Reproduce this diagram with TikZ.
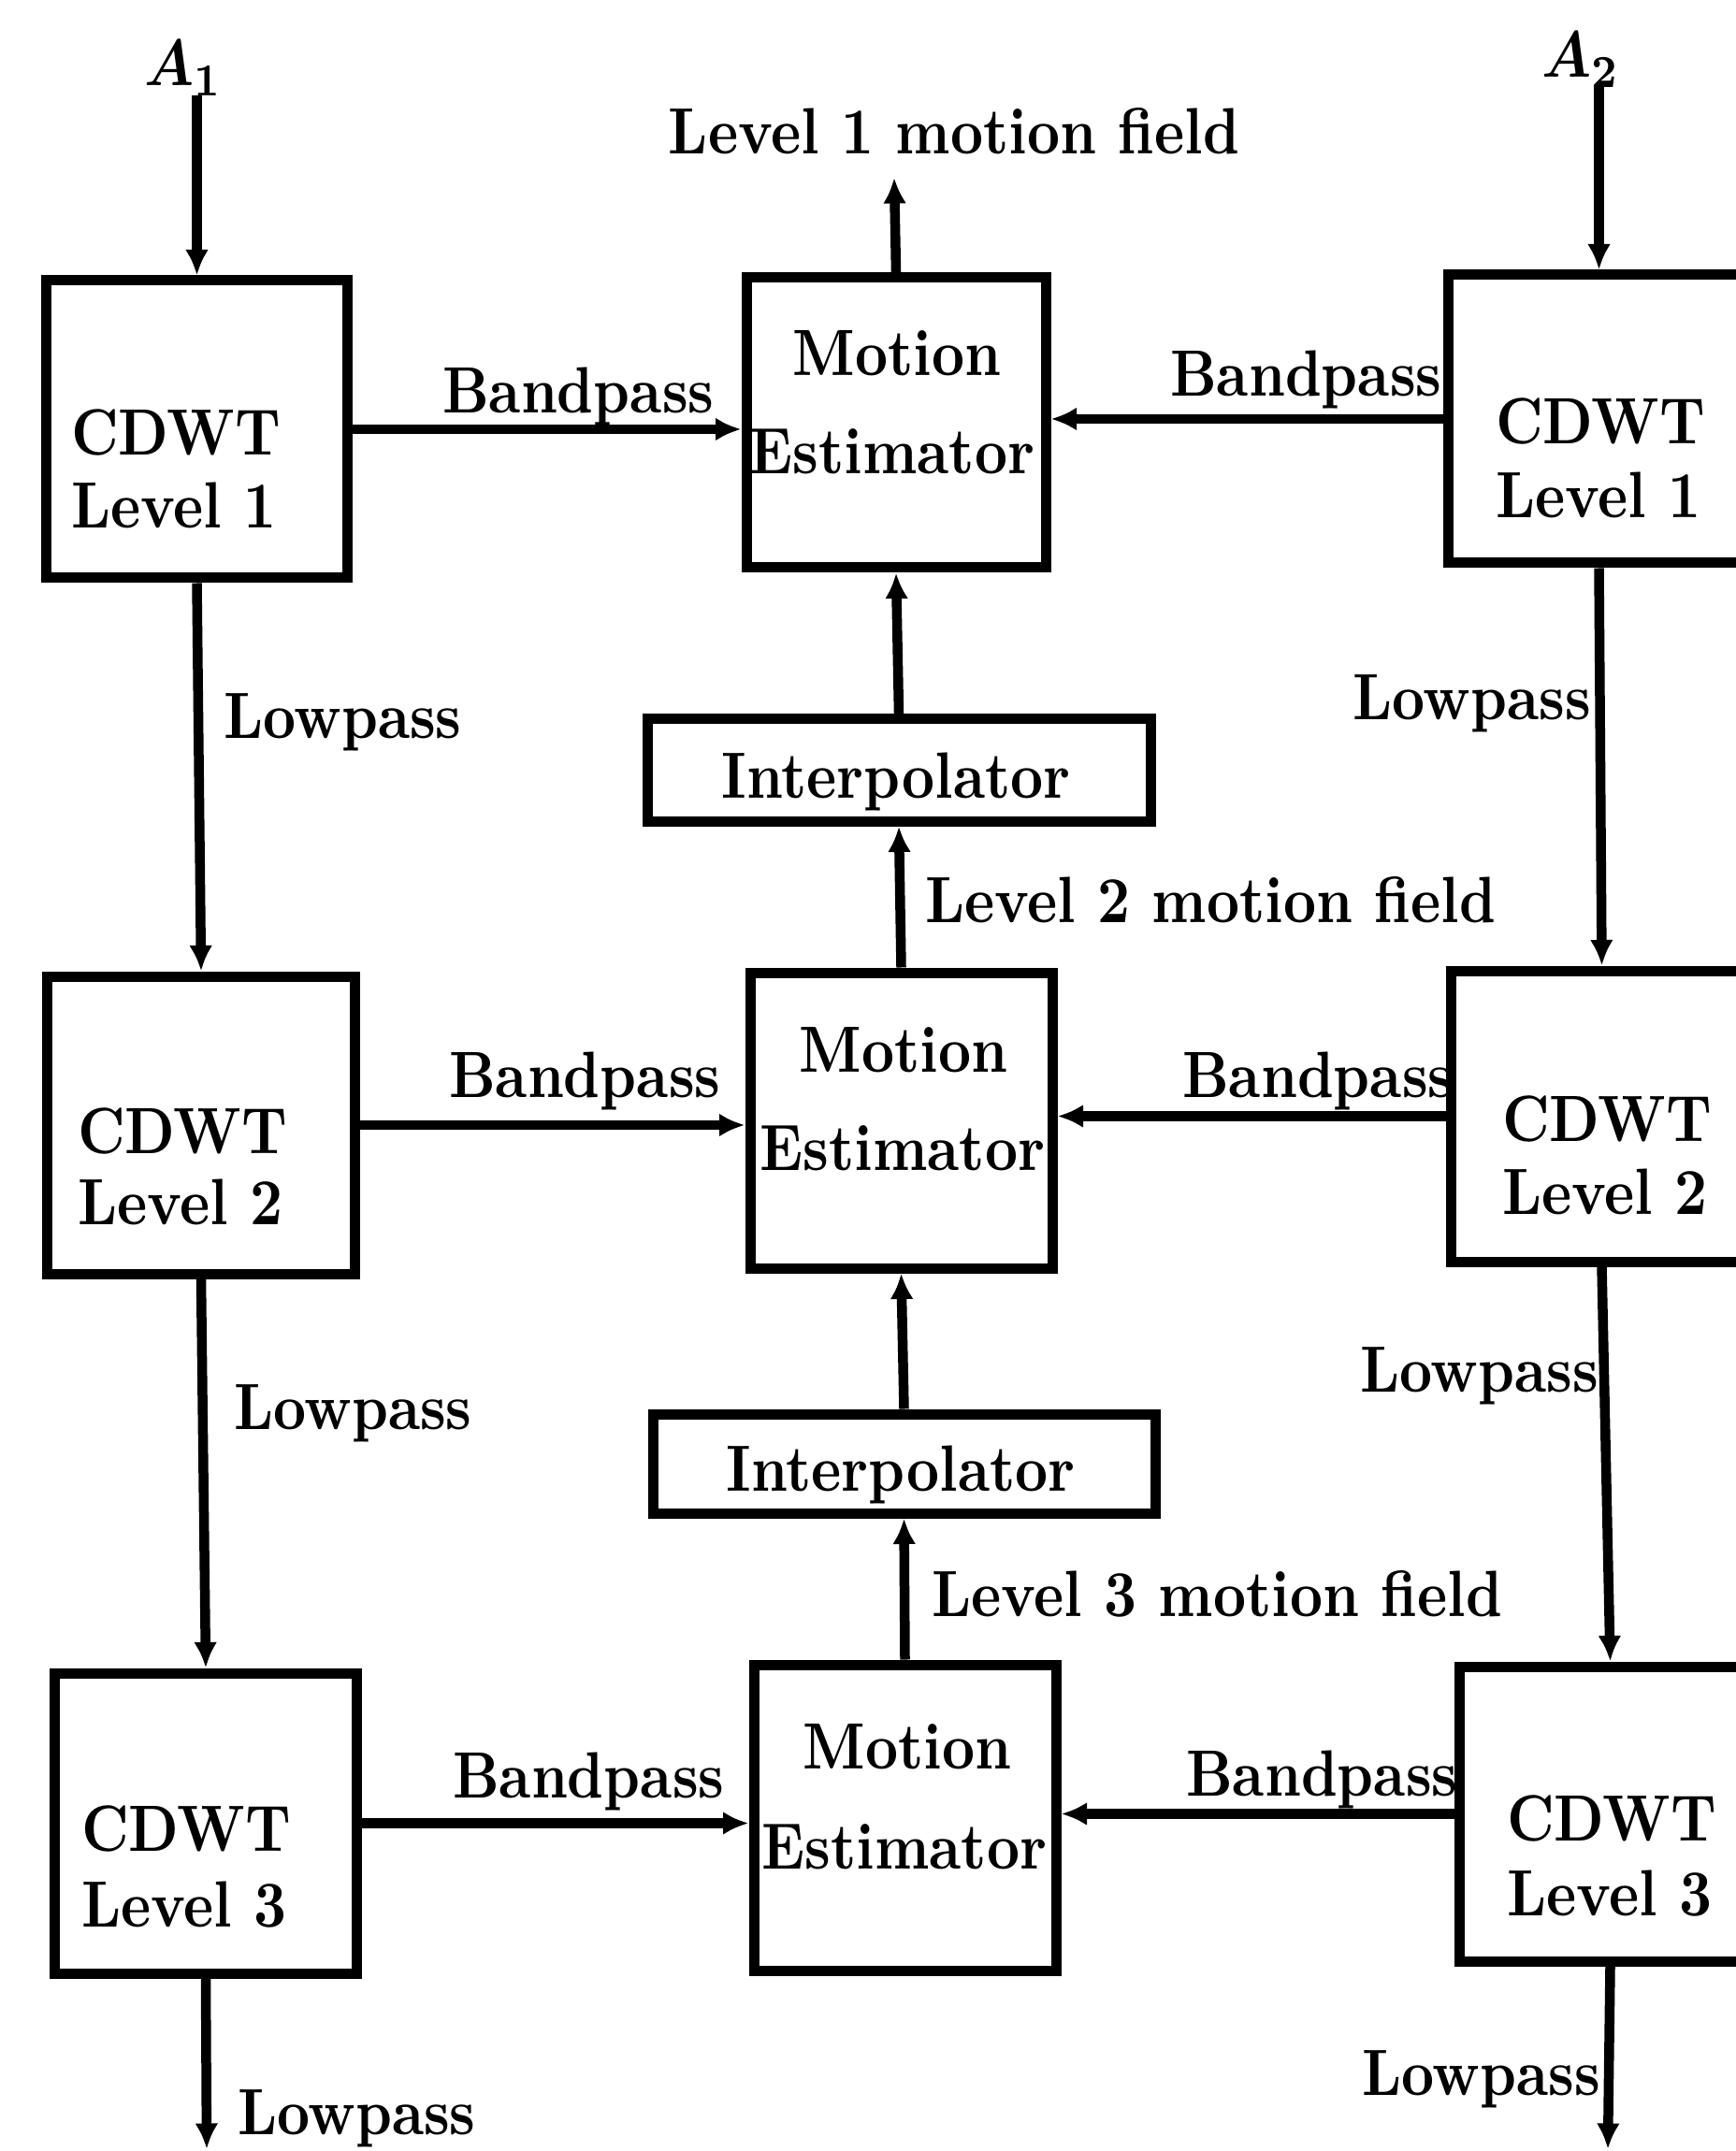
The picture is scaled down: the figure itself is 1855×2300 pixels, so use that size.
\documentclass[tikz,border=0pt]{standalone}
\usetikzlibrary{arrows.meta}
\usepackage{graphicx}
\newcommand\lbl[1]{\scalebox{1.22}[1.4]{\bfseries #1}}
\newcommand\mlbl[1]{\scalebox{1.22}[1.4]{\boldmath$#1$}}
\begin{document}
\begin{tikzpicture}[x=0.2pt,y=-0.2pt,
  blk/.style={draw, line width=2.2pt, inner sep=0pt},
  txt/.style={inner sep=0pt, outer sep=0pt},
  conn/.style={line width=2.1pt, -{Latex[length=5.5pt,width=5pt]}}]
\useasboundingbox (0,0) rectangle (1855,2300);
% ---------- left column ----------
\node[blk, minimum width=64.2pt, minimum height=63.6pt] (L1) at (210.5,459) {};
\node[blk, minimum width=65.6pt, minimum height=63.6pt] (L2) at (215,1203) {};
\node[blk, minimum width=64.4pt, minimum height=64.2pt] (L3) at (220,1949.5) {};
% ---------- middle column ----------
\node[blk, minimum width=64pt, minimum height=62pt] (ME1) at (958,452) {};
\node[blk, minimum width=64.6pt, minimum height=63.2pt] (ME2) at (963.5,1198) {};
\node[blk, minimum width=64.6pt, minimum height=65.4pt] (ME3) at (967.5,1943.5) {};
\node[blk, minimum width=107.6pt, minimum height=21.8pt] (I1) at (961,823.5) {};
\node[blk, minimum width=107.4pt, minimum height=21.2pt] (I2) at (966.5,1565) {};
% ---------- right column ----------
\node[blk, minimum width=64.6pt, minimum height=61.6pt] (R1) at (1709.5,448) {};
\node[blk, minimum width=64.6pt, minimum height=62.2pt] (R2) at (1712.5,1193.5) {};
\node[blk, minimum width=64.6pt, minimum height=63pt] (R3) at (1721.5,1939.5) {};
% ---------- texts inside boxes ----------
\node[txt, anchor=base west] (L1a) at (76,487) {\lbl{CDWT}};
\node[txt, anchor=base west] (L1b) at (76,565) {\lbl{Level 1}};
\node[txt, anchor=base west] (L2a) at (83,1233) {\lbl{CDWT}};
\node[txt, anchor=base west] (L2b) at (83,1309) {\lbl{Level 2}};
\node[txt, anchor=base west] (L3a) at (87,1979) {\lbl{CDWT}};
\node[txt, anchor=base west] (L3b) at (87,2060) {\lbl{Level 3}};
\node[txt, anchor=base west] (R1a) at (1599,475) {\lbl{CDWT}};
\node[txt, anchor=base west] (R1b) at (1599,554) {\lbl{Level 1}};
\node[txt, anchor=base west] (R2a) at (1606,1220) {\lbl{CDWT}};
\node[txt, anchor=base west] (R2b) at (1606,1298) {\lbl{Level 2}};
\node[txt, anchor=base west] (R3a) at (1611,1968) {\lbl{CDWT}};
\node[txt, anchor=base west] (R3b) at (1611,2048) {\lbl{Level 3}};
\node[txt, anchor=base] (ME1a) at (959,402) {\lbl{Motion}};
\node[txt, anchor=base] (ME1b) at (954,507) {\lbl{Estimator}};
\node[txt, anchor=base] (ME2a) at (966,1146) {\lbl{Motion}};
\node[txt, anchor=base] (ME2b) at (965,1251) {\lbl{Estimator}};
\node[txt, anchor=base] (ME3a) at (970,1891) {\lbl{Motion}};
\node[txt, anchor=base] (ME3b) at (967,1998) {\lbl{Estimator}};
\node[txt, anchor=base] (I1t) at (958,854) {\lbl{Interpolator}};
\node[txt, anchor=base] (I2t) at (963,1594) {\lbl{Interpolator}};
% ---------- outside labels ----------
\node[txt, anchor=base west] (A1) at (154,92) {\mlbl{A_1}};
\node[txt, anchor=base west] (A2) at (1648,83) {\mlbl{A_2}};
\node[txt, anchor=base] (MF1) at (1020,165) {\lbl{Level 1 motion field}};
\node[txt, anchor=base west] (MF2) at (989,986) {\lbl{Level 2 motion field}};
\node[txt, anchor=base west] (MF3) at (996,1728) {\lbl{Level 3 motion field}};
\node[txt, anchor=base west] (BL1) at (473,442) {\lbl{Bandpass}};
\node[txt, anchor=base west] (BL2) at (480,1173) {\lbl{Bandpass}};
\node[txt, anchor=base west] (BL3) at (484,1922) {\lbl{Bandpass}};
\node[txt, anchor=base west] (BR1) at (1251,424) {\lbl{Bandpass}};
\node[txt, anchor=base west] (BR2) at (1264,1173) {\lbl{Bandpass}};
\node[txt, anchor=base west] (BR3) at (1268,1920) {\lbl{Bandpass}};
\node[txt, anchor=base west] (LL1) at (239,790) {\lbl{Lowpass}};
\node[txt, anchor=base west] (LL2) at (250,1528) {\lbl{Lowpass}};
\node[txt, anchor=base west] (LL3) at (254,2282) {\lbl{Lowpass}};
\node[txt, anchor=base east] (LR1) at (1701,770) {\lbl{Lowpass}};
\node[txt, anchor=base east] (LR2) at (1709,1488) {\lbl{Lowpass}};
\node[txt, anchor=base east] (LR3) at (1711,2240) {\lbl{Lowpass}};
% ---------- free ends ----------
\coordinate (MF1tip) at (956,190);
\coordinate (L3out) at (221,2298);
\coordinate (R3out) at (1719,2298);
% ---------- connectors ----------
\draw[conn] (A1.south -| L1.north) -- (L1.north);
\draw[conn] (A2.south -| R1.north) -- (R1.north);
\draw[conn] (L1.south) -- (L2.north);
\draw[conn] (L2.south) -- (L3.north);
\draw[conn] (L3.south) -- (L3out);
\draw[conn] (R1.south) -- (R2.north);
\draw[conn] (R2.south) -- (R3.north);
\draw[conn] (R3.south) -- (R3out);
\draw[conn] (L1.east) -- (L1.east -| ME1.west);
\draw[conn] (L2.east) -- (L2.east -| ME2.west);
\draw[conn] (L3.east) -- (L3.east -| ME3.west);
\draw[conn] (R1.west) -- (R1.west -| ME1.east);
\draw[conn] (R2.west) -- (R2.west -| ME2.east);
\draw[conn] (R3.west) -- (R3.west -| ME3.east);
\draw[conn] (ME1.north) -- (MF1tip);
\draw[conn] (I1.north) -- (ME1.south);
\draw[conn] (ME2.north) -- (I1.south);
\draw[conn] (I2.north) -- (ME2.south);
\draw[conn] (ME3.north) -- (I2.south);
\end{tikzpicture}
\end{document}
